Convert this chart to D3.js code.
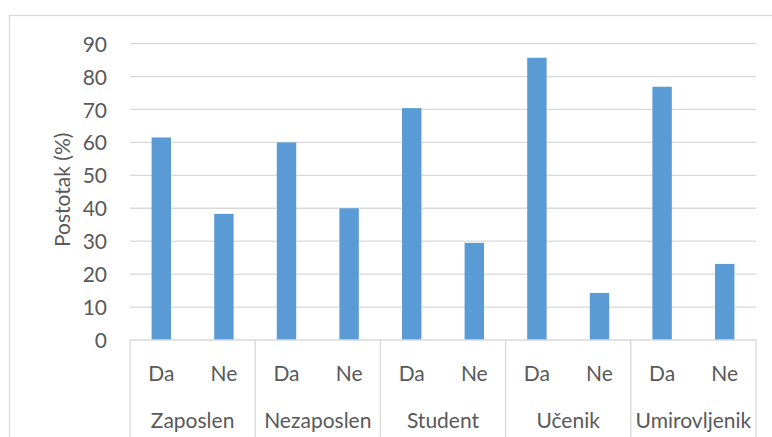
<!DOCTYPE html>
<html>
<head>
<meta charset="utf-8">
<script src="https://cdn.jsdelivr.net/npm/d3@7"></script>
<style>
  body { margin: 0; background: #fff; }
  text { font-family: Lato, "Open Sans", sans-serif; fill: #595959; }
</style>
</head>
<body>
<div id="d3-container"></div>
<script>
const width = 772,
  height = 437,
  margin = { top: 43.6, bottom: 97, left: 130, right: 16 };

const groups = ["Zaposlen", "Nezaposlen", "Student", "Učenik", "Umirovljenik"];
const answers = ["Da", "Ne"];
const daValues = [61.5, 60.0, 70.4, 85.7, 76.9];
const neValues = [38.3, 40.0, 29.5, 14.3, 23.1];
const yTicks = [0, 10, 20, 30, 40, 50, 60, 70, 80, 90];

// flat rows for the band scale
const rows = [];
groups.forEach((g, i) => {
  rows.push({ group: g, answer: answers[0], value: daValues[i] });
  rows.push({ group: g, answer: answers[1], value: neValues[i] });
});

const svg = d3.select("#d3-container")
  .append("svg")
  .attr("width", width)
  .attr("height", height);

// outer chart border (cropped at right/bottom)
svg.append("rect")
  .attr("x", 9.5).attr("y", 15.5)
  .attr("width", 800).attr("height", 500)
  .attr("fill", "none")
  .attr("stroke", "#d9d9d9")
  .attr("stroke-width", 1.2);

const xScale = d3.scaleBand()
  .domain(rows.map((d, i) => i))
  .range([margin.left, width - margin.right])
  .paddingInner(0.69)
  .paddingOuter(0.345);

const groupScale = d3.scaleBand()
  .domain(groups)
  .range([margin.left, width - margin.right]);

const yScale = d3.scaleLinear()
  .domain([0, 90])
  .range([height - margin.bottom, margin.top]);

// gridlines
svg.append("g")
  .selectAll("line")
  .data(yTicks.filter(d => d > 0))
  .join("line")
  .attr("x1", margin.left)
  .attr("x2", width - margin.right)
  .attr("y1", d => yScale(d))
  .attr("y2", d => yScale(d))
  .attr("stroke", "#d9d9d9")
  .attr("stroke-width", 1.3);

// y axis labels
const yAxis = d3.axisLeft(yScale).tickValues(yTicks).tickSize(0).tickPadding(23);
svg.append("g")
  .attr("transform", `translate(${margin.left},0)`)
  .call(yAxis)
  .call(g => g.select(".domain").remove())
  .selectAll("text")
  .style("font-size", "21px")
  .attr("dy", "0.36em")
  .attr("fill", "#595959");

svg.append("text")
  .attr("transform", `translate(70,${(yScale(0) + yScale(90)) / 2 - 2}) rotate(-90)`)
  .attr("text-anchor", "middle")
  .style("font-size", "21px")
  .text("Postotak (%)");

// bars
svg.append("g")
  .selectAll("rect")
  .data(rows)
  .join("rect")
  .attr("x", (d, i) => xScale(i))
  .attr("width", xScale.bandwidth())
  .attr("y", d => yScale(d.value))
  .attr("height", d => yScale(0) - yScale(d.value))
  .attr("fill", "#5b9bd5");

// category axis: baseline + group separators
const y0 = yScale(0);
svg.append("line")
  .attr("x1", margin.left).attr("x2", width - margin.right)
  .attr("y1", y0).attr("y2", y0)
  .attr("stroke", "#d9d9d9").attr("stroke-width", 1.3);

const seps = groups.map(g => groupScale(g)).concat([width - margin.right]);
svg.append("g")
  .selectAll("line")
  .data(seps)
  .join("line")
  .attr("x1", d => d).attr("x2", d => d)
  .attr("y1", y0).attr("y2", height)
  .attr("stroke", "#d9d9d9").attr("stroke-width", 1.3);

svg.append("g")
  .selectAll("text")
  .data(rows)
  .join("text")
  .attr("x", (d, i) => xScale(i) + xScale.bandwidth() / 2)
  .attr("y", 381)
  .attr("text-anchor", "middle")
  .style("font-size", "21px")
  .text(d => d.answer);

svg.append("g")
  .selectAll("text")
  .data(groups)
  .join("text")
  .attr("x", d => groupScale(d) + groupScale.bandwidth() / 2)
  .attr("y", 428)
  .attr("text-anchor", "middle")
  .style("font-size", "21px")
  .text(d => d);
</script>
</body>
</html>
